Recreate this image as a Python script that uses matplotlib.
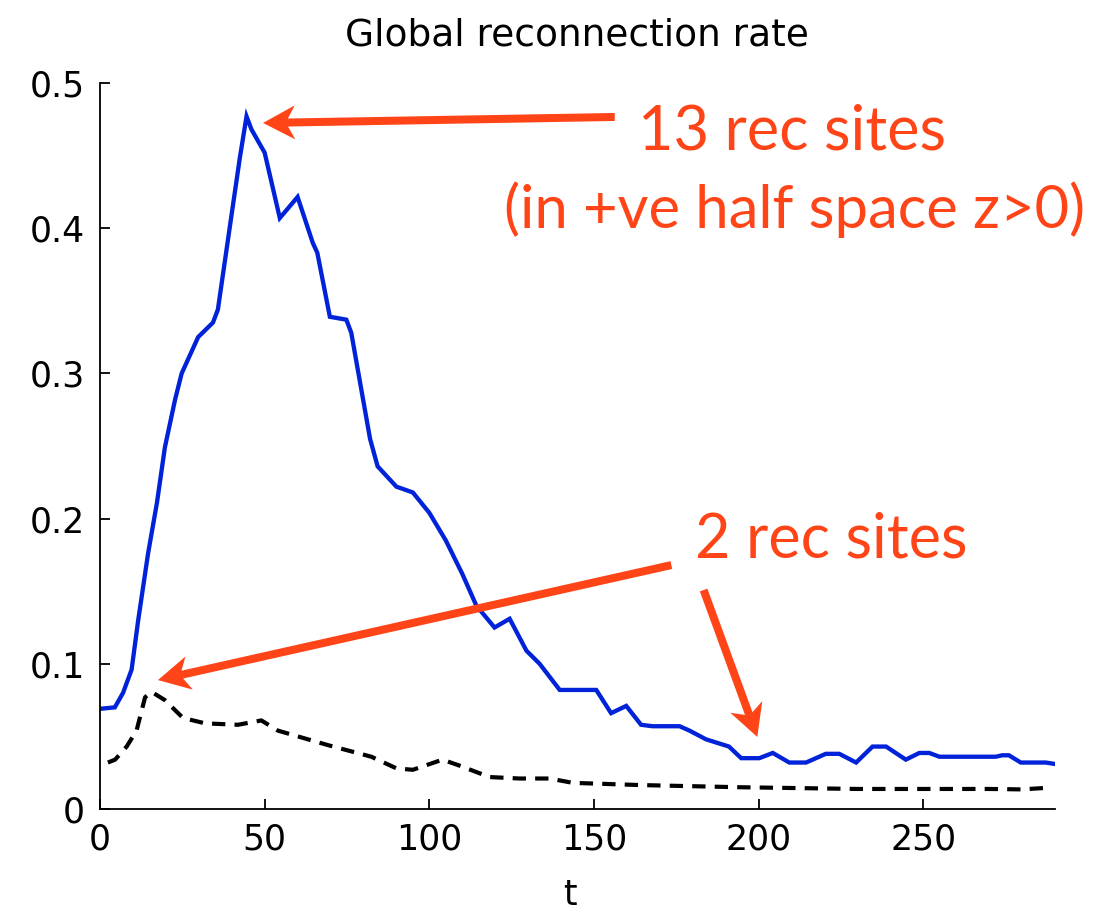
import matplotlib
matplotlib.use("Agg")
import matplotlib.pyplot as plt
from matplotlib.patches import FancyArrow
from matplotlib.transforms import IdentityTransform

# Reconnection rate vs time, 13 reconnection sites (solid blue)
t13 = [0, 4.5, 7, 9.6, 11.6, 14.6, 17.3, 19.7, 22.8, 24.8, 29.8, 34.3, 35.8,
       40, 42.5, 44.5, 46, 50, 54.6, 60, 64.6, 66, 69.8, 74.8, 76.3, 82,
       84.3, 90, 95, 100, 105, 110, 114.3, 119.8, 124.4, 129.5, 133.5, 139.6,
       147.7, 150.7, 155.2, 159.8, 164.3, 167.8, 176, 179, 184, 191, 194.7,
       200.2, 204.3, 209.3, 214.4, 220.4, 224.5, 229.6, 234.6, 238.7, 244.7,
       248.8, 251.8, 254.9, 272, 274, 276, 279.6, 287.2, 290]
rate13 = [0.069, 0.070, 0.080, 0.096, 0.130, 0.176, 0.211, 0.249, 0.282,
          0.300, 0.325, 0.335, 0.344, 0.410, 0.449, 0.477, 0.468, 0.452,
          0.407, 0.4215, 0.390, 0.383, 0.339, 0.337, 0.328, 0.255, 0.236,
          0.222, 0.218, 0.204, 0.185, 0.162, 0.140, 0.125, 0.131, 0.109,
          0.100, 0.082, 0.082, 0.082, 0.066, 0.071, 0.058, 0.057, 0.057,
          0.054, 0.048, 0.043, 0.035, 0.035, 0.0386, 0.032, 0.032, 0.038,
          0.038, 0.032, 0.043, 0.043, 0.034, 0.0386, 0.0386, 0.036, 0.036,
          0.037, 0.037, 0.032, 0.032, 0.031]

# Reconnection rate vs time, 2 reconnection sites (dashed black)
t2 = [2.4, 4.6, 8.1, 11.1, 13.7, 15.7, 19.7, 25.2, 31.9, 41.9, 49, 54, 69.2,
      82.4, 90, 95, 104, 109, 118.3, 127.4, 136.5, 143.6, 163.8, 194, 230,
      270, 280, 287]
rate2 = [0.032, 0.034, 0.043, 0.054, 0.077, 0.0806, 0.075, 0.0627, 0.059,
         0.058, 0.061, 0.054, 0.044, 0.036, 0.028, 0.027, 0.034, 0.030,
         0.022, 0.021, 0.021, 0.018, 0.0165, 0.015, 0.0138, 0.0138, 0.0135,
         0.0145]

xticks = [0, 50, 100, 150, 200, 250]
yticks = [0, 0.1, 0.2, 0.3, 0.4, 0.5]
ytick_labels = ["0", "0.1", "0.2", "0.3", "0.4", "0.5"]

W, H = 1108, 919
fig = plt.figure(figsize=(W / 100, H / 100), dpi=100)
ax = fig.add_axes([100 / W, 110 / H, 955 / W, 726 / H])

ax.plot(t13, rate13, color="#0022D8", lw=3.1, solid_joinstyle="miter")
ax.plot(t2, rate2, color="black", lw=3.0, linestyle=(0, (3.2, 2.2)))

ax.set_xlim(0, 290)
ax.set_ylim(0, 0.5)
ax.set_xticks(xticks)
ax.set_xticklabels([str(v) for v in xticks])
ax.set_yticks(yticks)
ax.set_yticklabels(ytick_labels)
for side in ("top", "right"):
    ax.spines[side].set_visible(False)
for side in ("left", "bottom"):
    ax.spines[side].set_linewidth(1.3)
ax.tick_params(direction="in", length=7, width=1.3, labelsize=25,
               colors="black")
ax.tick_params(axis="y", pad=11)
ax.tick_params(axis="x", pad=10)
for lab in ax.get_xticklabels() + ax.get_yticklabels():
    lab.set_family("DejaVu Sans")

fig.text(577 / W, 1 - 36 / H, "Global reconnection rate", ha="center",
         va="center", fontsize=27, family="DejaVu Sans")
fig.text(570 / W, 1 - 895 / H, "t", ha="center", va="center",
         fontsize=25, family="DejaVu Sans")

red = "#FF4418"
fig.text(792 / W, 1 - 150 / H, "13 rec sites", ha="center", va="baseline",
         fontsize=44, color=red, family="Lato")
fig.text(795 / W, 1 - 228 / H, "(in +ve half space z>0)", ha="center",
         va="baseline", fontsize=43, color=red, family="Lato")
fig.text(831 / W, 1 - 557 / H, "2 rec sites", ha="center", va="baseline",
         fontsize=44, color=red, family="Lato")

# Annotation arrows: (tail, tip) in data coordinates
arrows = [((156.3, 0.4766), (49.5, 0.4725)),
          ((173.5, 0.168), (17.6, 0.0888)),
          ((183.3, 0.1508), (199.6, 0.0496))]
for (tx, ty), (hx, hy) in arrows:
    x0, y0 = ax.transData.transform((tx, ty))
    x1, y1 = ax.transData.transform((hx, hy))
    arr = FancyArrow(x0, y0, x1 - x0, y1 - y0, width=8, head_width=34,
                     head_length=32, overhang=0.22, length_includes_head=True,
                     color=red, lw=0, transform=IdentityTransform())
    fig.add_artist(arr)

fig.savefig("out.png", dpi=100)
